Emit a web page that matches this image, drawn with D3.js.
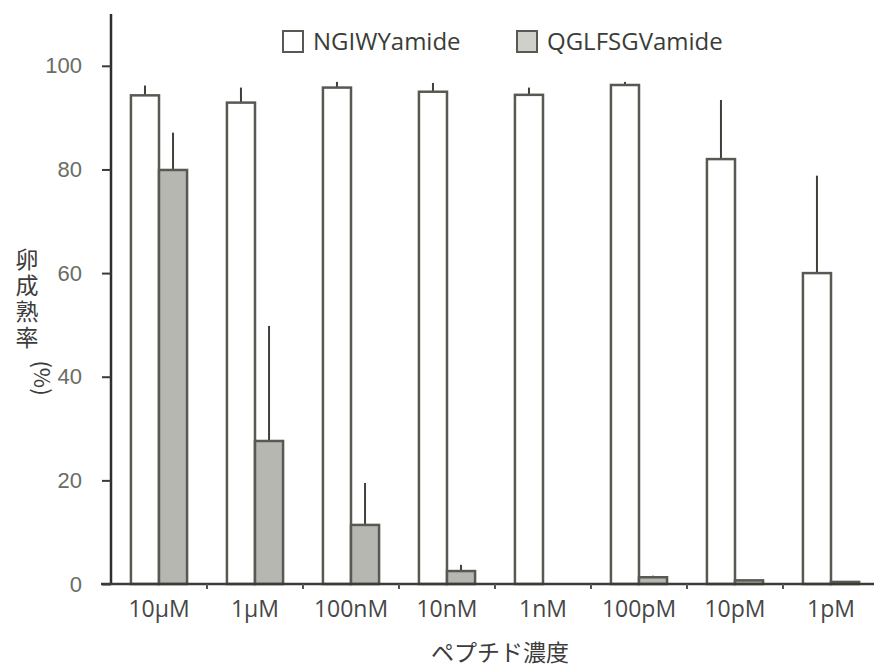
<!DOCTYPE html>
<html>
<head>
<meta charset="utf-8">
<script src="https://cdn.jsdelivr.net/npm/d3@7"></script>
<style>
  body { margin: 0; background: #fff; }
  svg { display: block; }
</style>
</head>
<body>
<svg></svg>
<script>
/* data */
var categories = ['10\u03bcM', '1\u03bcM', '100nM', '10nM', '1nM', '100pM', '10pM', '1pM'];
var series = ['NGIWYamide', 'QGLFSGVamide'];
var ngiwMean = [94.3, 92.9, 95.8, 95.0, 94.4, 96.3, 82.0, 60.0];
var ngiwErr  = [1.9, 2.9, 1.1, 1.7, 1.4, 0.6, 11.4, 18.8];
var qglfMean = [79.9, 27.6, 11.4, 2.5, 0, 1.3, 0.7, 0.4];
var qglfErr  = [7.2, 22.2, 8.1, 1.2, 0, 0.3, 0, 0];
var yTicks = [0, 20, 40, 60, 80, 100];

/* svg setting */
var svgWidth = 874;
var svgHeight = 670;
var margin = {top: 14, right: 0, bottom: 86, left: 111};
var colors = {fill: ['#ffffff', '#b6b7b1'], stroke: '#565a52'};

var svg = d3.select('svg')
    .attr('width', svgWidth)
    .attr('height', svgHeight);

var data = categories.map(function(c, i){
  return {cat: c, values: [
    {key: series[0], v: ngiwMean[i], e: ngiwErr[i]},
    {key: series[1], v: qglfMean[i], e: qglfErr[i]}
  ]};
});

/* scales */
var x0 = d3.scaleBand()
    .domain(categories)
    .range([margin.left, margin.left + 8 * 96]);
var x1 = d3.scaleBand()
    .domain(series)
    .range([0, x0.bandwidth()])
    .paddingOuter(0.71);
var y = d3.scaleLinear()
    .domain([0, 110])
    .range([svgHeight - margin.bottom, margin.top]);

/* bars */
var groups = svg.append('g').selectAll('g')
    .data(data)
    .enter()
    .append('g')
    .attr('transform', function(d){ return translate(x0(d.cat), 0); });

groups.selectAll('line.err')
    .data(function(d){ return d.values.filter(function(v){ return v.e > 0; }); })
    .enter()
    .append('line')
    .attr('class', 'err')
    .attr('x1', function(d){ return x1(d.key) + x1.bandwidth() / 2; })
    .attr('x2', function(d){ return x1(d.key) + x1.bandwidth() / 2; })
    .attr('y1', function(d){ return y(d.v); })
    .attr('y2', function(d){ return y(d.v + d.e); })
    .attr('stroke', '#3e423b')
    .attr('stroke-width', 2);

groups.selectAll('rect')
    .data(function(d){ return d.values.filter(function(v){ return v.v > 0; }); })
    .enter()
    .append('rect')
    .attr('x', function(d){ return x1(d.key); })
    .attr('y', function(d){ return y(d.v); })
    .attr('width', x1.bandwidth())
    .attr('height', function(d){ return y(0) - y(d.v); })
    .attr('fill', function(d){ return colors.fill[series.indexOf(d.key)]; })
    .attr('stroke', colors.stroke)
    .attr('stroke-width', 2.5);

/* y axis */
var yAxis = svg.append('g')
    .attr('transform', translate(margin.left, 0))
    .call(d3.axisLeft(y).tickValues(yTicks).tickSize(9).tickPadding(20).tickSizeOuter(0));
yAxis.select('.domain')
    .attr('d', 'M0,' + margin.top + 'V' + y(0))
    .attr('stroke', '#2e2e2e')
    .attr('stroke-width', 2.5);
yAxis.selectAll('.tick line').attr('stroke', '#3a3a3a').attr('stroke-width', 2);
yAxis.selectAll('.tick text')
    .attr('fill', '#6a6d63')
    .style('font-family', 'Liberation Sans, Arial, sans-serif')
    .style('font-size', '22px');

/* x axis */
var xAxis = svg.append('g')
    .attr('transform', translate(0, y(0)))
    .call(d3.axisBottom(x0).tickSize(0).tickPadding(17));
xAxis.select('.domain')
    .attr('d', 'M' + (margin.left - 10) + ',0H' + svgWidth)
    .attr('stroke', '#3a3d37')
    .attr('stroke-width', 2.5);
xAxis.selectAll('.tick text')
    .attr('fill', '#474747')
    .style('font-family', 'Open Sans, sans-serif')
    .style('font-size', '23px');

// small ticks between the groups
xAxis.selectAll('line.sep')
    .data(categories.slice(1))
    .enter()
    .append('line')
    .attr('class', 'sep')
    .attr('x1', function(d){ return x0(d); })
    .attr('x2', function(d){ return x0(d); })
    .attr('y1', 0)
    .attr('y2', 5)
    .attr('stroke', '#555')
    .attr('stroke-width', 2);

/* axis titles */
svg.append('text')
    .attr('x', 27)
    .attr('y', 248)
    .style('writing-mode', 'vertical-rl')
    .style('letter-spacing', '3px')
    .style('font-family', 'Noto Sans CJK JP, sans-serif')
    .style('font-size', '23px')
    .attr('fill', '#3c3c3c')
    .text('卵成熟率');
svg.append('text')
    .attr('transform', 'translate(34,378) rotate(90)')
    .attr('text-anchor', 'middle')
    .style('font-family', 'Noto Sans CJK JP, sans-serif')
    .style('font-size', '22px')
    .attr('fill', '#3c3c3c')
    .text('(%)');

svg.append('text')
    .attr('x', 500)
    .attr('y', 661)
    .attr('text-anchor', 'middle')
    .style('font-family', 'Noto Sans CJK JP, sans-serif')
    .style('font-size', '23px')
    .attr('fill', '#3c3c3c')
    .text('ペプチド濃度');

/* legend */
var legendX = [283, 517];
var legend = svg.append('g').selectAll('g')
    .data(series)
    .enter()
    .append('g')
    .attr('transform', function(d, i){ return translate(legendX[i], 31); });
legend.append('rect')
    .attr('width', 20)
    .attr('height', 21)
    .attr('fill', function(d, i){ return i === 0 ? '#fff' : '#cfd0ca'; })
    .attr('stroke', colors.stroke)
    .attr('stroke-width', 2);
legend.append('text')
    .attr('x', 30)
    .attr('y', 19)
    .style('font-family', 'Open Sans, sans-serif')
    .style('font-size', '24px')
    .attr('fill', '#3a3d37')
    .text(function(d){ return d; });

function translate(x, y) {
  return 'translate(' + x + ',' + y + ')';
}
</script>
</body>
</html>
